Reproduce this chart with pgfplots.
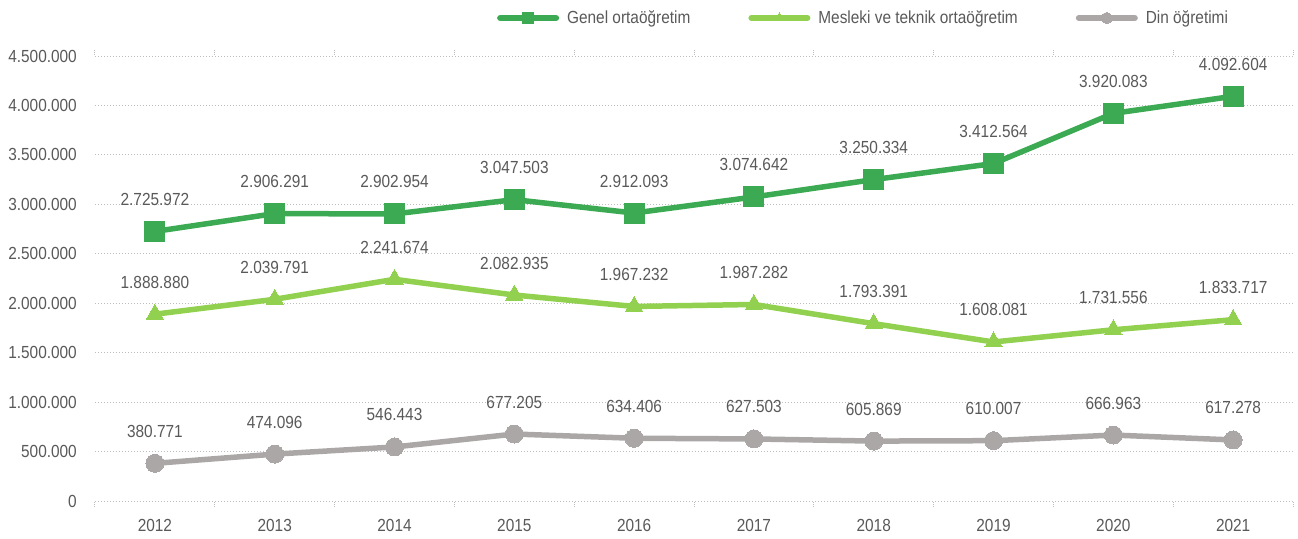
\documentclass[border=0pt]{standalone}
\usepackage{fontspec}
\setmainfont{Liberation Sans}[FakeStretch=0.88]
\usepackage{pgfplots}
\pgfplotsset{compat=1.18}
\definecolor{genel}{RGB}{59,170,83}
\definecolor{mesleki}{RGB}{146,208,80}
\definecolor{din}{RGB}{171,167,167}
\definecolor{textgray}{RGB}{89,89,89}
\definecolor{gridgray}{RGB}{190,190,190}
\newcommand{\chartfont}{\fontsize{17.5bp}{21bp}\selectfont}
\begin{document}
\begin{tikzpicture}
\pgfkeys{/pgf/number format/.cd, fixed, precision=0, 1000 sep={.}, assume math mode=true}
\begin{axis}[
  scale only axis, width=1198bp, height=445bp,
  xmin=-0.5, xmax=9.5, ymin=0, ymax=4500000,
  clip=false,
  xtick={0,1,2,3,4,5,6,7,8,9},
  xticklabels={2012,2013,2014,2015,2016,2017,2018,2019,2020,2021},
  minor xtick={-0.5,0.5,1.5,2.5,3.5,4.5,5.5,6.5,7.5,8.5,9.5},
  ytick={0,500000,1000000,1500000,2000000,2500000,3000000,3500000,4000000,4500000},
  scaled y ticks=false,
  axis line style={draw=none},
  ymajorgrids,
  major grid style={line width=1bp, draw=gridgray, dash pattern=on 1bp off 2bp},
  tick align=outside,
  major tick length=0pt,
  minor tick length=6bp,
  minor tick style={draw=gridgray, line width=1bp, dash pattern=on 1bp off 1bp},
  tick label style={font=\chartfont, text=textgray},
  xticklabel style={inner sep=0pt, anchor=north, yshift=-18bp},
  yticklabel style={inner sep=0pt, anchor=east, xshift=-18bp},
  nodes near coords,
  every node near coord/.append style={font=\chartfont, text=textgray, anchor=base, yshift=26bp, inner sep=0pt},
  legend columns=3,
  legend style={draw=none, fill=none, font=\chartfont, text=textgray,
    at={(rel axis cs:0.3355,1.0854)}, anchor=west, inner sep=0pt,
    nodes={inner sep=0pt},
    /tikz/every odd column/.append style={column sep=8bp},
    /tikz/every even column/.append style={column sep=58bp}},
  legend image code/.code={
    \draw[#1, line width=6bp, line cap=round] (0bp,0bp) -- (56bp,0bp);
    \draw[#1, mark size=5.5bp] plot coordinates {(28bp,0bp)};
  },
  every axis plot/.append style={line width=5.5bp, line join=round},
]
\addplot[genel, mark=square*, mark size=10bp, mark options={solid, fill=genel, draw=genel, line width=0pt}] coordinates {
 (0,2725972) (1,2906291) (2,2902954) (3,3047503) (4,2912093)
 (5,3074642) (6,3250334) (7,3412564) (8,3920083) (9,4092604)};
\addlegendentry{Genel ortaöğretim}
\addplot[mesleki, mark=triangle*, mark size=10bp, mark options={solid, fill=mesleki, draw=mesleki, line width=0pt}] coordinates {
 (0,1888880) (1,2039791) (2,2241674) (3,2082935) (4,1967232)
 (5,1987282) (6,1793391) (7,1608081) (8,1731556) (9,1833717)};
\addlegendentry{Mesleki ve teknik ortaöğretim}
\addplot[din, mark=*, mark size=9bp, mark options={solid, fill=din, draw=din, line width=0pt}] coordinates {
 (0,380771) (1,474096) (2,546443) (3,677205) (4,634406)
 (5,627503) (6,605869) (7,610007) (8,666963) (9,617278)};
\addlegendentry{Din öğretimi}
\end{axis}
\pgfresetboundingbox
\path (-95bp,-38bp) rectangle (1203bp,501bp);
\end{tikzpicture}
\end{document}
